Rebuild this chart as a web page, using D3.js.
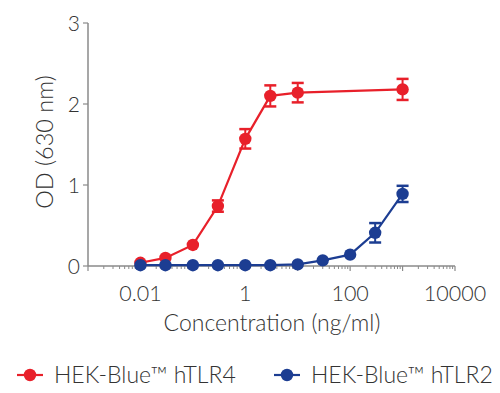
<!DOCTYPE html>
<html>
<head>
<meta charset="utf-8">
<script src="https://cdn.jsdelivr.net/npm/d3@7"></script>
<style>
  body { margin: 0; background: #fff; }
  text { font-family: Lato, "Open Sans", sans-serif; font-weight: 300; fill: #333; }
</style>
</head>
<body>
<svg id="chart" width="500" height="393"></svg>
<script>
// Concentrations (ng/ml)
var tlr4Conc = [0.01, 0.03, 0.1, 0.3, 1, 3, 10, 1000];
var tlr4OD   = [0.04, 0.10, 0.26, 0.74, 1.57, 2.10, 2.14, 2.18];
var tlr4Err  = [0, 0, 0, 0.07, 0.12, 0.13, 0.12, 0.13];

var tlr2Conc = [0.01, 0.03, 0.1, 0.3, 1, 3, 10, 30, 100, 300, 1000];
var tlr2OD   = [0.01, 0.01, 0.01, 0.01, 0.01, 0.01, 0.02, 0.07, 0.14, 0.41, 0.89];
var tlr2Err  = [0, 0, 0, 0, 0, 0, 0, 0, 0, 0.12, 0.10];

var xTickLabels = [0.01, 1, 100, 10000];
var yTickLabels = [0, 1, 2, 3];
var seriesNames = ["HEK-Blue™ hTLR4", "HEK-Blue™ hTLR2"];
var seriesColors = ["#e8202a", "#1c3d92"];

var svg = d3.select("#chart");

var x = d3.scaleLog().domain([0.001, 10000]).range([88, 455]);
var y = d3.scaleLinear().domain([0, 3]).range([266, 23]);

// minor ticks for log axis
var minor = [];
for (var e = -3; e < 4; e++) {
	for (var k = 2; k < 10; k++) minor.push(k * Math.pow(10, e));
}
var decades = d3.range(-3, 5).map(function(e) { return Math.pow(10, e); });

var axisColor = "#8a8a8a";

// x axis
var gx = svg.append("g").attr("transform", "translate(0,266)");
gx.append("line").attr("x1", 88).attr("x2", 455).attr("stroke", axisColor).attr("stroke-width", 1.5);
gx.selectAll(".minor").data(minor).enter().append("line")
	.attr("x1", function(d) { return x(d); }).attr("x2", function(d) { return x(d); })
	.attr("y1", 0).attr("y2", 3).attr("stroke", axisColor).attr("stroke-width", 1);
gx.selectAll(".major").data(decades).enter().append("line")
	.attr("x1", function(d) { return x(d); }).attr("x2", function(d) { return x(d); })
	.attr("y1", 0).attr("y2", 5).attr("stroke", axisColor).attr("stroke-width", 1.2);
gx.selectAll(".lbl").data(xTickLabels).enter().append("text")
	.attr("x", function(d) { return x(d); }).attr("y", 35)
	.attr("text-anchor", "middle").attr("font-size", 21.5)
	.text(function(d) { return d; });

// y axis
var gy = svg.append("g");
gy.append("line").attr("x1", 88).attr("x2", 88).attr("y1", y(3)).attr("y2", y(0))
	.attr("stroke", axisColor).attr("stroke-width", 1.5);
gy.selectAll(".tick").data(yTickLabels).enter().append("line")
	.attr("x1", 83).attr("x2", 88)
	.attr("y1", function(d) { return y(d); }).attr("y2", function(d) { return y(d); })
	.attr("stroke", axisColor).attr("stroke-width", 1.2);
gy.selectAll(".lbl").data(yTickLabels).enter().append("text")
	.attr("x", 80).attr("y", function(d) { return y(d) + 7.5; })
	.attr("text-anchor", "end").attr("font-size", 21)
	.text(function(d) { return d; });

// axis titles
svg.append("text").attr("transform", "translate(53,142) rotate(-90)")
	.attr("text-anchor", "middle").attr("font-size", 23.5).text("OD (630 nm)");
svg.append("text").attr("x", 272).attr("y", 331)
	.attr("text-anchor", "middle").attr("font-size", 23).text("Concentration (ng/ml)");

function drawSeries(conc, od, err, color) {
	var pts = conc.map(function(c, i) { return {c: c, v: od[i], e: err[i]}; });
	var g = svg.append("g");
	var line = d3.line().x(function(d) { return x(d.c); }).y(function(d) { return y(d.v); });
	g.append("path").datum(pts).attr("d", line)
		.attr("fill", "none").attr("stroke", color).attr("stroke-width", 2.2);
	var eb = g.selectAll(".err").data(pts.filter(function(d) { return d.e > 0; })).enter().append("g");
	eb.append("line")
		.attr("x1", function(d) { return x(d.c); }).attr("x2", function(d) { return x(d.c); })
		.attr("y1", function(d) { return y(d.v + d.e); }).attr("y2", function(d) { return y(d.v - d.e); })
		.attr("stroke", color).attr("stroke-width", 2);
	[1, -1].forEach(function(s) {
		eb.append("line")
			.attr("x1", function(d) { return x(d.c) - 6; }).attr("x2", function(d) { return x(d.c) + 6; })
			.attr("y1", function(d) { return y(d.v + s * d.e); }).attr("y2", function(d) { return y(d.v + s * d.e); })
			.attr("stroke", color).attr("stroke-width", 2.5);
	});
	g.selectAll("circle").data(pts).enter().append("circle")
		.attr("cx", function(d) { return x(d.c); }).attr("cy", function(d) { return y(d.v); })
		.attr("r", 6.2).attr("fill", color);
}

drawSeries(tlr4Conc, tlr4OD, tlr4Err, seriesColors[0]);
drawSeries(tlr2Conc, tlr2OD, tlr2Err, seriesColors[1]);

// legend
var legX = [17, 274];
seriesNames.forEach(function(name, i) {
	var lg = svg.append("g").attr("transform", "translate(" + legX[i] + ",375)");
	lg.append("line").attr("x1", 0).attr("x2", 26).attr("stroke", seriesColors[i]).attr("stroke-width", 2.2);
	lg.append("circle").attr("cx", 13).attr("r", 6.2).attr("fill", seriesColors[i]);
	lg.append("text").attr("x", 37).attr("y", 8).attr("font-size", 23).text(name);
});
</script>
</body>
</html>
